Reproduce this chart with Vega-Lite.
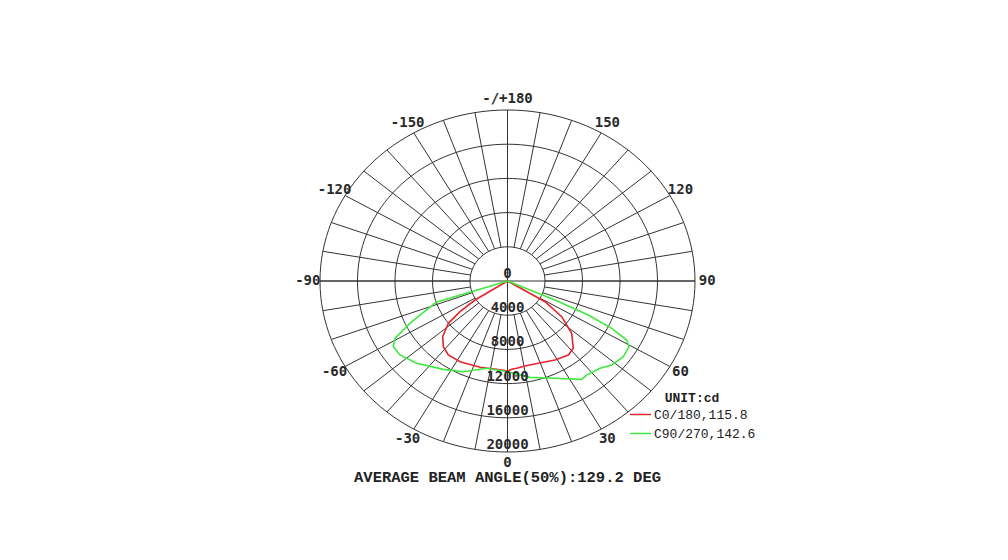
{
  "$schema": "https://vega.github.io/schema/vega-lite/v6.json",
  "width": 375,
  "height": 342,
  "autosize": {"type": "none"},
  "padding": {"left": 320, "top": 110, "right": 313, "bottom": 108},
  "background": "white",
  "config": {"view": {"stroke": null}},
  "title": {"text": "AVERAGE BEAM ANGLE(50%):129.2 DEG", "orient": "bottom", "offset": 0, "anchor": "middle", "font": "Liberation Mono", "fontSize": 15.5, "fontWeight": "bold", "color": "#222"},
  "datasets": {
    "angles": [{"a":0},{"a":10},{"a":20},{"a":30},{"a":40},{"a":50},{"a":60},{"a":70},{"a":80},{"a":90},{"a":100},{"a":110},{"a":120},{"a":130},{"a":140},{"a":150},{"a":160},{"a":170},{"a":180},{"a":190},{"a":200},{"a":210},{"a":220},{"a":230},{"a":240},{"a":250},{"a":260},{"a":270},{"a":280},{"a":290},{"a":300},{"a":310},{"a":320},{"a":330},{"a":340},{"a":350}],
    "rings": [
      {"ring": 4000, "a": [0,10,20,30,40,50,60,70,80,90,100,110,120,130,140,150,160,170,180,190,200,210,220,230,240,250,260,270,280,290,300,310,320,330,340,350]},
      {"ring": 8000, "a": [0,10,20,30,40,50,60,70,80,90,100,110,120,130,140,150,160,170,180,190,200,210,220,230,240,250,260,270,280,290,300,310,320,330,340,350]},
      {"ring": 12000, "a": [0,10,20,30,40,50,60,70,80,90,100,110,120,130,140,150,160,170,180,190,200,210,220,230,240,250,260,270,280,290,300,310,320,330,340,350]},
      {"ring": 16000, "a": [0,10,20,30,40,50,60,70,80,90,100,110,120,130,140,150,160,170,180,190,200,210,220,230,240,250,260,270,280,290,300,310,320,330,340,350]},
      {"ring": 20000, "a": [0,10,20,30,40,50,60,70,80,90,100,110,120,130,140,150,160,170,180,190,200,210,220,230,240,250,260,270,280,290,300,310,320,330,340,350]}
    ],
    "curves": [
      {"series": "C0/180,115.8", "a": -62, "cd": 0},
      {"series": "C0/180,115.8", "a": -57.3, "cd": 4120},
      {"series": "C0/180,115.8", "a": -54.7, "cd": 6210},
      {"series": "C0/180,115.8", "a": -51.9, "cd": 8020},
      {"series": "C0/180,115.8", "a": -46.7, "cd": 9500},
      {"series": "C0/180,115.8", "a": -41.7, "cd": 10290},
      {"series": "C0/180,115.8", "a": -36.1, "cd": 10710},
      {"series": "C0/180,115.8", "a": -28.2, "cd": 10710},
      {"series": "C0/180,115.8", "a": -16.2, "cd": 10510},
      {"series": "C0/180,115.8", "a": -6.4, "cd": 10390},
      {"series": "C0/180,115.8", "a": 0, "cd": 10530},
      {"series": "C0/180,115.8", "a": 2.5, "cd": 10340},
      {"series": "C0/180,115.8", "a": 5.5, "cd": 10260},
      {"series": "C0/180,115.8", "a": 10.6, "cd": 10120},
      {"series": "C0/180,115.8", "a": 18.8, "cd": 10170},
      {"series": "C0/180,115.8", "a": 28.7, "cd": 10540},
      {"series": "C0/180,115.8", "a": 36.8, "cd": 10820},
      {"series": "C0/180,115.8", "a": 41.7, "cd": 10550},
      {"series": "C0/180,115.8", "a": 48.2, "cd": 9180},
      {"series": "C0/180,115.8", "a": 54.2, "cd": 7130},
      {"series": "C0/180,115.8", "a": 58.8, "cd": 4680},
      {"series": "C0/180,115.8", "a": 62, "cd": 0},
      {"series": "C90/270,142.6", "a": -76, "cd": 0},
      {"series": "C90/270,142.6", "a": -72, "cd": 8000},
      {"series": "C90/270,142.6", "a": -64.6, "cd": 11500},
      {"series": "C90/270,142.6", "a": -60.8, "cd": 13750},
      {"series": "C90/270,142.6", "a": -57.8, "cd": 14400},
      {"series": "C90/270,142.6", "a": -53, "cd": 14370},
      {"series": "C90/270,142.6", "a": -45.2, "cd": 13660},
      {"series": "C90/270,142.6", "a": -33.5, "cd": 12390},
      {"series": "C90/270,142.6", "a": -24, "cd": 11610},
      {"series": "C90/270,142.6", "a": -12.3, "cd": 10450},
      {"series": "C90/270,142.6", "a": 0, "cd": 10610},
      {"series": "C90/270,142.6", "a": 12, "cd": 11520},
      {"series": "C90/270,142.6", "a": 24, "cd": 12460},
      {"series": "C90/270,142.6", "a": 34.5, "cd": 13960},
      {"series": "C90/270,142.6", "a": 37.5, "cd": 13870},
      {"series": "C90/270,142.6", "a": 44, "cd": 14200},
      {"series": "C90/270,142.6", "a": 48.5, "cd": 14840},
      {"series": "C90/270,142.6", "a": 54.4, "cd": 15200},
      {"series": "C90/270,142.6", "a": 59.3, "cd": 15070},
      {"series": "C90/270,142.6", "a": 61.5, "cd": 14470},
      {"series": "C90/270,142.6", "a": 63.5, "cd": 12420},
      {"series": "C90/270,142.6", "a": 65.2, "cd": 9490},
      {"series": "C90/270,142.6", "a": 66.3, "cd": 5530},
      {"series": "C90/270,142.6", "a": 70, "cd": 0}
    ],
    "radial": [
      {"v": 0, "label": "0"},
      {"v": 4000, "label": "4000"},
      {"v": 8000, "label": "8000"},
      {"v": 12000, "label": "12000"},
      {"v": 16000, "label": "16000"},
      {"v": 20000, "label": "20000"}
    ],
    "anglelabels": [
      {"a": 0, "label": "0"},
      {"a": 30, "label": "30"},
      {"a": 60, "label": "60"},
      {"a": 90, "label": "90"},
      {"a": 120, "label": "120"},
      {"a": 150, "label": "150"},
      {"a": 180, "label": "-/+180"},
      {"a": -150, "label": "-150"},
      {"a": -120, "label": "-120"},
      {"a": -90, "label": "-90"},
      {"a": -60, "label": "-60"},
      {"a": -30, "label": "-30"}
    ]
  },
  "layer": [
    {
      "data": {"name": "rings"},
      "transform": [
        {"flatten": ["a"]},
        {"calculate": "datum.ring * sin(datum.a * PI / 180)", "as": "x"},
        {"calculate": "-datum.ring * cos(datum.a * PI / 180)", "as": "y"}
      ],
      "mark": {"type": "line", "interpolate": "cardinal-closed", "stroke": "#333", "strokeWidth": 1},
      "encoding": {
        "x": {"field": "x", "type": "quantitative", "scale": {"domain": [-20000, 20000], "nice": false, "zero": false}, "axis": null},
        "y": {"field": "y", "type": "quantitative", "scale": {"domain": [-20000, 20000], "nice": false, "zero": false}, "axis": null},
        "detail": {"field": "ring", "type": "nominal"},
        "order": {"field": "a", "type": "quantitative"}
      }
    },
    {
      "data": {"name": "angles"},
      "transform": [
        {"calculate": "4000 * sin(datum.a * PI / 180)", "as": "x1"},
        {"calculate": "-4000 * cos(datum.a * PI / 180)", "as": "y1"},
        {"calculate": "20000 * sin(datum.a * PI / 180)", "as": "x2"},
        {"calculate": "-20000 * cos(datum.a * PI / 180)", "as": "y2"}
      ],
      "mark": {"type": "rule", "stroke": "#333", "strokeWidth": 1},
      "encoding": {
        "x": {"field": "x1", "type": "quantitative", "scale": {"domain": [-20000, 20000], "nice": false, "zero": false}, "axis": null},
        "y": {"field": "y1", "type": "quantitative", "scale": {"domain": [-20000, 20000], "nice": false, "zero": false}, "axis": null},
        "x2": {"field": "x2"},
        "y2": {"field": "y2"}
      }
    },
    {
      "data": {"name": "angles"},
      "transform": [
        {"filter": "datum.a % 90 == 0"},
        {"calculate": "20000 * sin(datum.a * PI / 180)", "as": "x2"},
        {"calculate": "-20000 * cos(datum.a * PI / 180)", "as": "y2"},
        {"calculate": "0", "as": "x1"},
        {"calculate": "0", "as": "y1"}
      ],
      "mark": {"type": "rule", "stroke": "#333", "strokeWidth": 1},
      "encoding": {
        "x": {"field": "x1", "type": "quantitative", "scale": {"domain": [-20000, 20000], "nice": false, "zero": false}, "axis": null},
        "y": {"field": "y1", "type": "quantitative", "scale": {"domain": [-20000, 20000], "nice": false, "zero": false}, "axis": null},
        "x2": {"field": "x2"},
        "y2": {"field": "y2"}
      }
    },
    {
      "data": {"name": "curves"},
      "transform": [
        {"calculate": "datum.cd * sin(datum.a * PI / 180)", "as": "x"},
        {"calculate": "-datum.cd * cos(datum.a * PI / 180)", "as": "y"}
      ],
      "mark": {"type": "line", "strokeWidth": 1.6},
      "encoding": {
        "x": {"field": "x", "type": "quantitative", "scale": {"domain": [-20000, 20000], "nice": false, "zero": false}, "axis": null},
        "y": {"field": "y", "type": "quantitative", "scale": {"domain": [-20000, 20000], "nice": false, "zero": false}, "axis": null},
        "order": {"field": "a", "type": "quantitative"},
        "color": {
          "field": "series", "type": "nominal",
          "scale": {"domain": ["C0/180,115.8", "C90/270,142.6"], "range": ["#e8262e", "#40e840"]},
          "legend": {
            "orient": "none", "legendX": 309, "legendY": 282,
            "title": "UNIT:cd", "titleFont": "Liberation Mono", "titleFontSize": 13, "titleFontWeight": "bold", "titleColor": "#222", "titleAnchor": "middle", "titlePadding": -2,
            "symbolType": "stroke", "symbolSize": 441, "symbolStrokeWidth": 1.5,
            "labelFont": "Liberation Mono", "labelFontSize": 13, "labelColor": "#222", "labelOffset": 2, "rowPadding": -7
          }
        }
      }
    },
    {
      "data": {"name": "radial"},
      "transform": [
        {"calculate": "-datum.v", "as": "y"},
        {"calculate": "0", "as": "x"}
      ],
      "mark": {"type": "text", "font": "DejaVu Sans Mono", "fontSize": 14, "fontWeight": "bold", "color": "#2a2a2a", "align": "center", "baseline": "alphabetic", "dy": -3},
      "encoding": {
        "x": {"field": "x", "type": "quantitative", "scale": {"domain": [-20000, 20000], "nice": false, "zero": false}, "axis": null},
        "y": {"field": "y", "type": "quantitative", "scale": {"domain": [-20000, 20000], "nice": false, "zero": false}, "axis": null},
        "text": {"field": "label", "type": "nominal"}
      }
    },
    {
      "data": {"name": "anglelabels"},
      "transform": [
        {"calculate": "21300 * sin(datum.a * PI / 180)", "as": "x"},
        {"calculate": "-21300 * cos(datum.a * PI / 180)", "as": "y"}
      ],
      "mark": {"type": "text", "font": "DejaVu Sans Mono", "fontSize": 14, "fontWeight": "bold", "color": "#2a2a2a", "align": "center", "baseline": "middle"},
      "encoding": {
        "x": {"field": "x", "type": "quantitative", "scale": {"domain": [-20000, 20000], "nice": false, "zero": false}, "axis": null},
        "y": {"field": "y", "type": "quantitative", "scale": {"domain": [-20000, 20000], "nice": false, "zero": false}, "axis": null},
        "text": {"field": "label", "type": "nominal"}
      }
    }
  ]
}
